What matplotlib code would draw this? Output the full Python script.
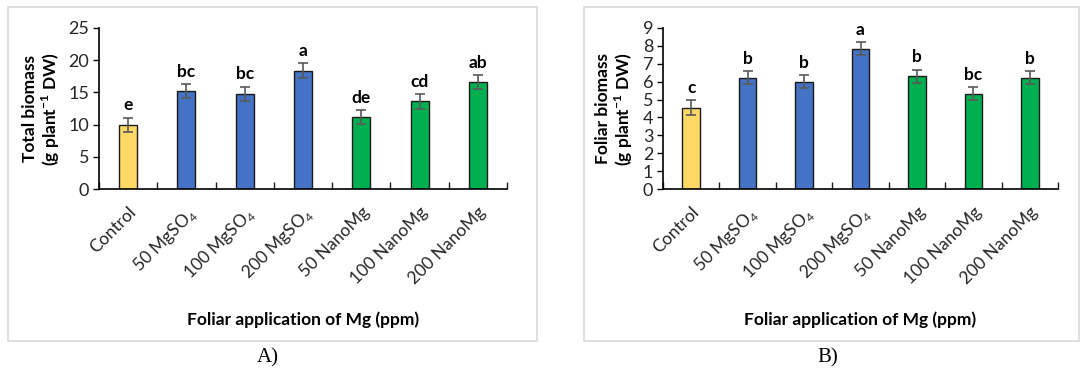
import matplotlib
matplotlib.use('Agg')
import matplotlib.pyplot as plt
from matplotlib.patches import Rectangle
import numpy as np

plt.rcParams['font.family'] = ['Lato', 'DejaVu Sans']
plt.rcParams['mathtext.fontset'] = 'custom'
plt.rcParams['mathtext.rm'] = 'Lato'
plt.rcParams['mathtext.bf'] = 'Lato:bold'

# data
categories = ['Control', '50 MgSO$_4$', '100 MgSO$_4$', '200 MgSO$_4$',
              '50 NanoMg', '100 NanoMg', '200 NanoMg']
total_biomass = [10.0, 15.2, 14.8, 18.4, 11.2, 13.6, 16.6]
total_err = [1.1, 1.1, 1.1, 1.1, 1.1, 1.1, 1.1]
total_letters = ['e', 'bc', 'bc', 'a', 'de', 'cd', 'ab']
foliar_biomass = [4.55, 6.22, 6.0, 7.84, 6.3, 5.33, 6.22]
foliar_err = [0.4, 0.37, 0.38, 0.37, 0.38, 0.38, 0.37]
foliar_letters = ['c', 'b', 'b', 'a', 'b', 'bc', 'b']

colors = ['#FFD966', '#4472C4', '#4472C4', '#4472C4', '#00B050', '#00B050', '#00B050']

fig = plt.figure(figsize=(10.84, 3.72), dpi=100)
W, H = 1084, 372

def frame(x0, x1, y0, y1):
    fig.patches.append(Rectangle((x0 / W, 1 - y1 / H), (x1 - x0) / W, (y1 - y0) / H,
                                 transform=fig.transFigure, facecolor='white',
                                 edgecolor='#d9d9d9', linewidth=1.2, zorder=-5))

frame(8, 537, 7, 341)
frame(584, 1079, 7, 341)

def panel(rect, vals, errs, letters, ymax, ystep, ylabel, ylx):
    ax = fig.add_axes(rect)
    ax.patch.set_visible(False)
    x = np.arange(len(categories))
    ax.bar(x, vals, width=0.31, color=colors, edgecolor='#1a1a1a', linewidth=1.0, zorder=2)
    ax.errorbar(x, vals, yerr=errs, fmt='none', ecolor='#595959', elinewidth=1.2,
                capsize=3.5, capthick=1.2, zorder=3)
    for xi, v, e, t in zip(x, vals, errs, letters):
        ax.annotate(t, (xi, v + e), xytext=(0, 3), textcoords='offset points',
                    ha='center', va='bottom', fontsize=12.5, fontweight='bold', color='black')
    ax.set_xlim(-0.5, len(categories) - 0.5)
    ax.set_ylim(0, ymax)
    ax.set_yticks(np.arange(0, ymax + 0.01, ystep))
    ax.tick_params(axis='y', direction='out', length=4, width=1, labelsize=13, pad=3,
                   colors='black', labelcolor='#262626')
    ax.set_xticks(x)
    ax.set_xticklabels(categories, rotation=45, ha='right', rotation_mode='anchor',
                       fontsize=12.5, color='#262626')
    ax.tick_params(axis='x', length=0, pad=11)
    ax.set_xticks(np.arange(-0.5, len(categories)), minor=True)
    ax.tick_params(axis='x', which='minor', direction='in', length=5, width=1, color='#1a1a1a')
    for s in ['top', 'right']:
        ax.spines[s].set_visible(False)
    ax.spines['left'].set_linewidth(1.2)
    ax.spines['bottom'].set_linewidth(1.2)
    ax.set_ylabel(ylabel, fontsize=12.5, fontweight='bold', linespacing=1.1)
    ax.yaxis.set_label_coords(ylx, 0.5)
    ax.set_xlabel('Foliar application of Mg (ppm)', fontsize=12.5, fontweight='bold')
    ax.xaxis.set_label_coords(0.5, -0.76)
    return ax

panel([99 / W, 1 - 189 / H, 408 / W, 161 / H], total_biomass, total_err, total_letters,
      25, 5, 'Total biomass\n(g plant$^{\\mathbf{-1}}$ DW)', -0.09)
panel([663 / W, 1 - 189 / H, 395 / W, 161 / H], foliar_biomass, foliar_err, foliar_letters,
      9, 1, 'Foliar biomass\n(g plant$^{\\mathbf{-1}}$ DW)', -0.07)

fig.text(268 / W, 1 - 358 / H, 'A)', ha='center', va='center', fontsize=15,
         family='Liberation Serif')
fig.text(828 / W, 1 - 358 / H, 'B)', ha='center', va='center', fontsize=15,
         family='Liberation Serif')

fig.savefig('out.png', dpi=100, facecolor='white')
